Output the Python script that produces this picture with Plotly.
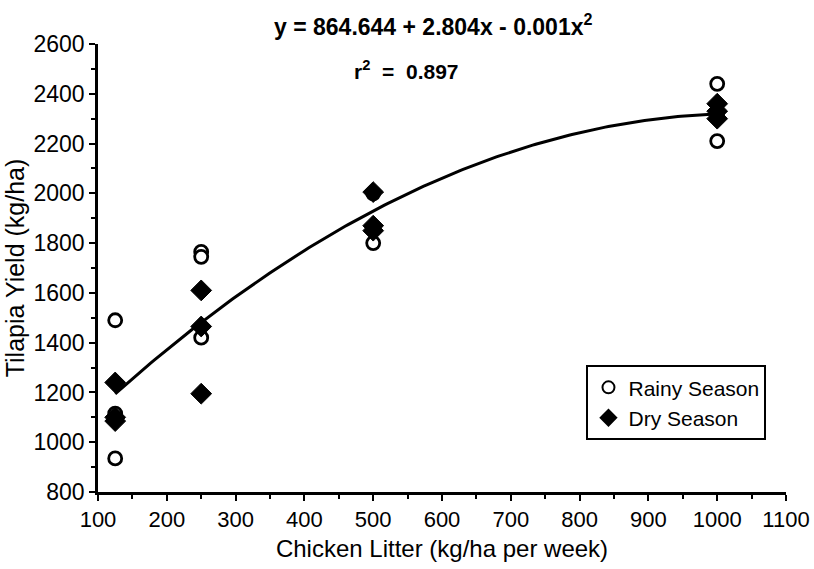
import numpy as np
import plotly.graph_objects as go

# ---- data ----
rainy_x = [125, 125, 125, 250, 250, 250, 500, 500, 500, 1000, 1000, 1000]
rainy_y = [1490, 1115, 935, 1765, 1745, 1420, 2000, 1860, 1800, 2440, 2310, 2210]
dry_x = [125, 125, 125, 250, 250, 250, 500, 500, 500, 1000, 1000, 1000]
dry_y = [1240, 1100, 1085, 1610, 1465, 1195, 2005, 1870, 1850, 2360, 2330, 2300]
fit_coefs = [864.644, 2.804, -0.00135]   # a, b, c of drawn regression curve
fit_range = [125, 1000]
x_ticks = [100, 200, 300, 400, 500, 600, 700, 800, 900, 1000, 1100]
y_ticks = [800, 1000, 1200, 1400, 1600, 1800, 2000, 2200, 2400, 2600]
equation_text = "y = 864.644 + 2.804x - 0.001x<sup>2</sup>"
r2_text = "r<sup>2</sup>  =  0.897"

FONT = "Liberation Sans, Arial, sans-serif"

fx = np.linspace(fit_range[0], fit_range[1], 200)
fy = fit_coefs[0] + fit_coefs[1] * fx + fit_coefs[2] * fx ** 2

fig = go.Figure()
fig.add_trace(go.Scatter(x=fx, y=fy, mode="lines", line=dict(color="black", width=3),
                         showlegend=False, hoverinfo="skip"))
fig.add_trace(go.Scatter(x=rainy_x, y=rainy_y, mode="markers", name="Rainy Season",
                         marker=dict(symbol="circle", size=13, color="white",
                                     line=dict(color="black", width=2.8))))
fig.add_trace(go.Scatter(x=dry_x, y=dry_y, mode="markers", name="Dry Season",
                         marker=dict(symbol="diamond", size=16, color="black",
                                     line=dict(color="black", width=1))))

axis_common = dict(
    showline=True, linecolor="black", linewidth=2.5, mirror=False,
    ticks="outside", ticklen=6, tickwidth=2, tickcolor="black",
    showgrid=False, zeroline=False, automargin=False,
)

fig.update_xaxes(range=[100, 1100], tickvals=x_ticks,
                 tickfont=dict(family=FONT, size=22, color="black"),
                 minor=dict(dtick=50, ticks="outside", ticklen=4, tickwidth=1.5, tickcolor="black", showgrid=False),
                 title=dict(text="Chicken Litter (kg/ha per week)", font=dict(family=FONT, size=24, color="black"),
                            standoff=10),
                 **axis_common)
fig.update_yaxes(range=[800, 2600], tickvals=y_ticks,
                 tickfont=dict(family=FONT, size=23, color="black"),
                 minor=dict(dtick=100, ticks="outside", ticklen=4, tickwidth=1.5, tickcolor="black", showgrid=False),
                 title=dict(text="Tilapia Yield (kg/ha)", font=dict(family=FONT, size=25, color="black"),
                            standoff=2),
                 **axis_common)

fig.add_annotation(text=equation_text, xref="paper", yref="paper", x=0.488, y=1.043,
                   xanchor="center", yanchor="middle", showarrow=False,
                   font=dict(family=FONT, size=23, color="black", weight="bold"))
fig.add_annotation(text=r2_text, xref="paper", yref="paper", x=0.448, y=0.942,
                   xanchor="center", yanchor="middle", showarrow=False,
                   font=dict(family=FONT, size=21, color="black", weight="bold"))

fig.update_layout(
    width=814, height=569,
    margin=dict(l=98, r=28, t=44, b=77),
    plot_bgcolor="white", paper_bgcolor="white",
    font=dict(family=FONT, color="black"),
    legend=dict(x=0.71, y=0.283, xanchor="left", yanchor="top",
                bordercolor="black", borderwidth=2, bgcolor="white",
                font=dict(family=FONT, size=21, color="black"),
                itemsizing="constant", tracegroupgap=0),
)

# remove the browser's default 8 px page margin so the figure fills the window exactly
fig.write_html("out.html",
               config={"displayModeBar": False},
               post_script="document.body.style.margin='0';document.body.style.overflow='hidden';")
